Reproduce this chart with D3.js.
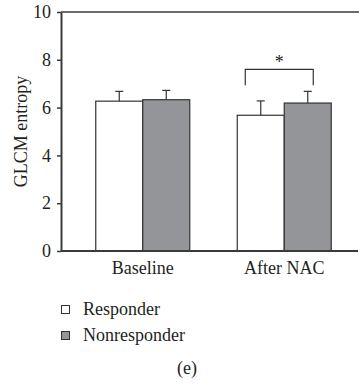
<!DOCTYPE html>
<html>
<head>
<meta charset="utf-8">
<script src="https://cdn.jsdelivr.net/npm/d3@7"></script>
<style>
    body { margin: 0; background: #fff; }
</style>
</head>
<body>
<div id="chart"></div>
<script>
// data
let categories = ['Baseline', 'After NAC'];
let series = ['Responder', 'Nonresponder'];
let responderMean = [6.27, 5.68];
let responderSd = [0.41, 0.60];
let nonresponderMean = [6.33, 6.19];
let nonresponderSd = [0.39, 0.49];
let yTicks = [0, 2, 4, 6, 8, 10];
let panelLabel = '(e)';

let width = 359,
    height = 385,
    margin = {top: 12, right: 1, bottom: 134, left: 61};

let colors = {Responder: '#ffffff', Nonresponder: '#939598'};
let ink = '#3a3a3a';
let font = "'Liberation Serif', 'Times New Roman', serif";
let fontSize = '18px';

let rows = categories.map((c, i) => ({
    cat: c,
    values: [
        {key: series[0], mean: responderMean[i], sd: responderSd[i]},
        {key: series[1], mean: nonresponderMean[i], sd: nonresponderSd[i]}
    ]
}));

let svg = d3.select('#chart')
    .append('svg')
    .attr('width', width)
    .attr('height', height);

let y = d3.scaleLinear()
    .domain([0, 10])
    .range([height - margin.bottom, margin.top]);

let x0 = d3.scaleBand()
    .domain(categories)
    .range([72, width - 4]);

let x1 = d3.scaleBand()
    .domain(series)
    .range([-47, 47]);

// top frame line
svg.append('line')
    .attr('x1', margin.left).attr('x2', width)
    .attr('y1', y(10)).attr('y2', y(10))
    .attr('stroke', ink).attr('stroke-width', 1.5);

// bars
let g = svg.selectAll('.grp')
    .data(rows)
    .enter()
    .append('g')
    .attr('class', 'grp')
    .attr('transform', d => 'translate(' + (x0(d.cat) + x0.bandwidth() / 2) + ',0)');

g.selectAll('rect')
    .data(d => d.values)
    .enter()
    .append('rect')
    .attr('x', d => x1(d.key))
    .attr('y', d => y(d.mean))
    .attr('width', x1.bandwidth())
    .attr('height', d => y(0) - y(d.mean))
    .attr('fill', d => colors[d.key])
    .attr('stroke', '#333')
    .attr('stroke-width', 1.2);

// error bars (upper only)
let eb = g.selectAll('.err')
    .data(d => d.values)
    .enter()
    .append('g')
    .attr('class', 'err')
    .attr('transform', d => 'translate(' + (x1(d.key) + x1.bandwidth() / 2) + ',0)')
    .attr('stroke', '#333')
    .attr('stroke-width', 1.2);

eb.append('line')
    .attr('x1', 0).attr('x2', 0)
    .attr('y1', d => y(d.mean))
    .attr('y2', d => y(d.mean + d.sd));

eb.append('line')
    .attr('x1', -4).attr('x2', 4)
    .attr('y1', d => y(d.mean + d.sd))
    .attr('y2', d => y(d.mean + d.sd));

// significance bracket over After NAC
let after = rows[1];
let cx = x0(after.cat) + x0.bandwidth() / 2;
let bx1 = cx + x1(series[0]) + 8,
    bx2 = cx + x1(series[1]) + x1.bandwidth() - 18,
    bTop = y(7.6),
    bLeg = y(6.93);

svg.append('path')
    .attr('d', 'M' + bx1 + ',' + bLeg + 'V' + bTop + 'H' + bx2 + 'V' + bLeg)
    .attr('fill', 'none')
    .attr('stroke', '#333')
    .attr('stroke-width', 1.2);

svg.append('text')
    .attr('x', (bx1 + bx2) / 2)
    .attr('y', bTop - 1)
    .attr('text-anchor', 'middle')
    .style('font-family', font)
    .style('font-size', fontSize)
    .style('fill', '#231f20')
    .text('*');

// y axis
let yAxis = svg.append('g')
    .attr('transform', 'translate(' + margin.left + ',0)')
    .call(d3.axisLeft(y).tickValues(yTicks).tickSize(4).tickSizeOuter(0).tickPadding(6));

yAxis.select('.domain').attr('stroke', ink).attr('stroke-width', 2);
yAxis.selectAll('.tick line').attr('stroke', ink).attr('stroke-width', 1.5);
yAxis.selectAll('.tick text')
    .style('font-family', font)
    .style('font-size', fontSize)
    .style('fill', '#231f20');

// x axis
svg.append('line')
    .attr('x1', margin.left).attr('x2', width - 1)
    .attr('y1', y(0)).attr('y2', y(0))
    .attr('stroke', ink).attr('stroke-width', 1.8);

svg.selectAll('.xlab')
    .data(categories)
    .enter()
    .append('text')
    .attr('class', 'xlab')
    .attr('x', d => x0(d) + x0.bandwidth() / 2)
    .attr('y', 274)
    .attr('text-anchor', 'middle')
    .style('font-family', font)
    .style('font-size', fontSize)
    .style('fill', '#231f20')
    .text(d => d);

// y label
svg.append('text')
    .attr('transform', 'translate(27,' + y(5) + ') rotate(-90)')
    .attr('text-anchor', 'middle')
    .style('font-family', font)
    .style('font-size', fontSize)
    .style('fill', '#231f20')
    .text('GLCM entropy');

// legend
let leg = svg.selectAll('.leg')
    .data(series)
    .enter()
    .append('g')
    .attr('class', 'leg')
    .attr('transform', (d, i) => 'translate(61,' + (305 + i * 26) + ')');

leg.append('rect')
    .attr('x', 0.5).attr('y', 0.5)
    .attr('width', 8).attr('height', 8)
    .attr('fill', d => colors[d])
    .attr('stroke', '#333')
    .attr('stroke-width', 1);

leg.append('text')
    .attr('x', 22)
    .attr('y', 10)
    .style('font-family', font)
    .style('font-size', fontSize)
    .style('fill', '#231f20')
    .text(d => d);

svg.append('text')
    .attr('x', 187)
    .attr('y', 374)
    .attr('text-anchor', 'middle')
    .style('font-family', font)
    .style('font-size', fontSize)
    .style('fill', '#231f20')
    .text(panelLabel);
</script>
</body>
</html>
